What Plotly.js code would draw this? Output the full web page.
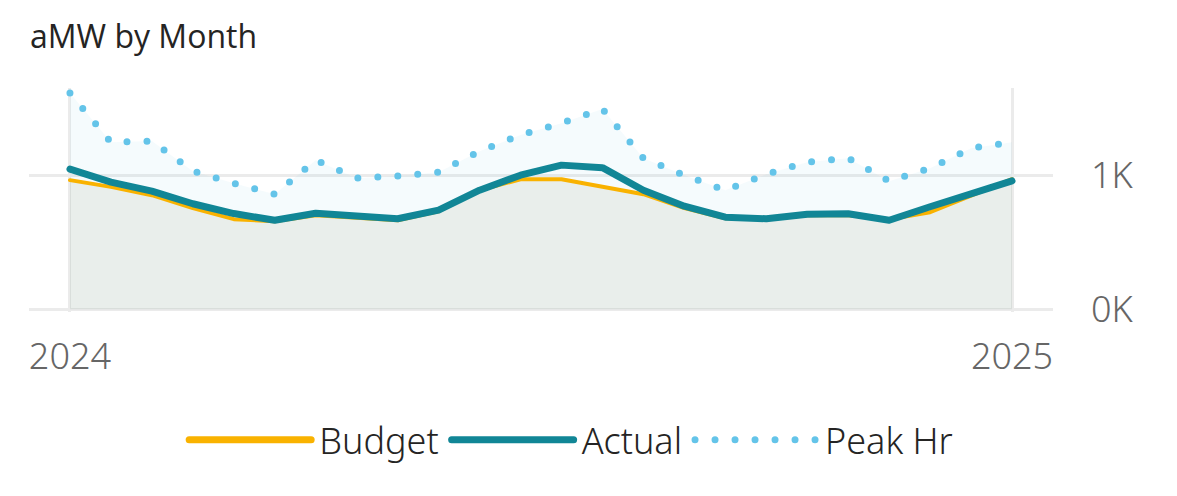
<!DOCTYPE html>
<html><head><meta charset="utf-8">
<script src="https://cdn.plot.ly/plotly-3.0.1.min.js"></script>
<style>
html,body{margin:0;padding:0;background:#fff;}
#chart{width:1177px;height:496px;}
.js-line{stroke-linecap:round !important;stroke-linejoin:round !important;}
.legendlines path{stroke-linecap:round !important;}
.xtick text,.ytick text{font-stretch:semi-condensed !important;font-weight:300 !important;}
.legendtext{font-stretch:semi-condensed !important;font-weight:300 !important;}
</style></head><body><div id="chart"></div>
<script>
const periods = [0,1,2,3,4,5,6,7,8,9,10,11,12,13,14,15,16,17,18,19,20,21,22,23];
const tickPositions = [0, 23];
const tickLabels = ['2024', '2025'];
const yTickValues = [0, 1000];
const yTickLabels = ['0K', '1K'];
const budget = [963,913,851,754,672,657,701,679,664,731,888,970,970,914,858,754,679,672,701,701,672,724,843,970];
const actual = [1045,948,881,787,714,664,716,689,675,739,888,1000,1075,1056,888,769,687,675,709,713,664,765,862,957];
const peakHr = [1612,1246,1254,1030,940,858,1112,978,993,1022,1179,1299,1388,1493,1127,1000,888,1007,1097,1127,955,1052,1201,1246];

const FONT = 'Noto Sans, Open Sans, sans-serif';
const traces = [
  {x: periods, y: peakHr, type: 'scatter', mode: 'lines', fill: 'tozeroy',
   fillcolor: 'rgba(90,190,220,0.06)', line: {width: 0}, showlegend: false, hoverinfo: 'skip'},
  {x: periods, y: budget, type: 'scatter', mode: 'lines', fill: 'tozeroy',
   fillcolor: 'rgba(165,171,133,0.15)', line: {width: 0}, showlegend: false, hoverinfo: 'skip'},
  {x: periods, y: peakHr, name: 'Peak Hr', type: 'scatter', mode: 'lines',
   line: {color: '#64C4E9', width: 7, dash: '0px,20px'}, legendrank: 3},
  {x: periods, y: budget, name: 'Budget', type: 'scatter', mode: 'lines',
   line: {color: '#F9B200', width: 4}, legendrank: 1},
  {x: periods, y: actual, name: 'Actual', type: 'scatter', mode: 'lines',
   line: {color: '#118696', width: 7}, legendrank: 2}
];

const layout = {
  width: 1177, height: 496,
  margin: {l: 29, r: 124, t: 88, b: 184},
  paper_bgcolor: '#ffffff', plot_bgcolor: '#ffffff',
  title: {text: 'aMW by Month', xref: 'container', x: 30/1177, xanchor: 'left',
          yref: 'container', y: 1 - 37/496, yanchor: 'middle',
          font: {family: 'Open Sans, Noto Sans, sans-serif', size: 32, color: '#252423'}},
  xaxis: {range: [-1, 24], tickmode: 'array', tickvals: tickPositions, ticktext: tickLabels,
          showgrid: true, gridcolor: '#EBEBEB', gridwidth: 3, zeroline: false, showline: false,
          ticks: '', ticklabelstandoff: 20, tickfont: {family: FONT, size: 36, color: '#666666'}},
  yaxis: {range: [-20, 1650], side: 'right', tickmode: 'array', tickvals: yTickValues, ticktext: yTickLabels,
          showgrid: true, gridcolor: '#EBEBEB', gridwidth: 3, zeroline: false, showline: false,
          ticks: '', ticklabelstandoff: 37, tickfont: {family: FONT, size: 36, color: '#666666'}},
  legend: {orientation: 'h', x: 0.528, xanchor: 'center', y: -0.571, yanchor: 'middle',
           font: {family: FONT, size: 36, color: '#252423'}, itemwidth: 128, traceorder: 'normal'},
  showlegend: true
};

Plotly.newPlot('chart', traces, layout, {staticPlot: true, displayModeBar: false}).then(function(gd){
  // lengthen legend symbol lines to match the reference legend swatches
  document.querySelectorAll('.legendlines path').forEach(function(p){
    p.setAttribute('d', 'M8,0h122');
    p.style.strokeWidth = '7px';
  });
});
</script></body></html>
